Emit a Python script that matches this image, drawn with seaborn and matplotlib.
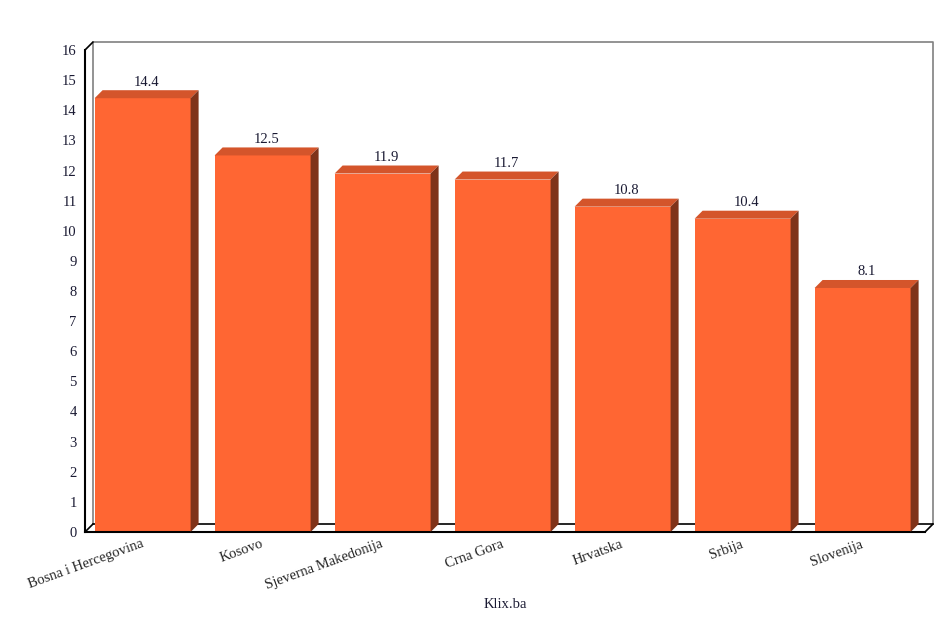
import matplotlib
matplotlib.use("Agg")
import matplotlib.pyplot as plt
import seaborn as sns
import pandas as pd
from matplotlib.patches import Polygon

countries = ["Bosna i Hercegovina", "Kosovo", "Sjeverna Makedonija", "Crna Gora",
             "Hrvatska", "Srbija", "Slovenija"]
values = [14.4, 12.5, 11.9, 11.7, 10.8, 10.4, 8.1]
y_ticks = list(range(0, 17))
source = "Klix.ba"

FRONT = "#FF6633"
TOP = "#D4552B"
SIDE = "#7F331A"

sns.set_style("white")
plt.rcParams["font.family"] = ["Liberation Serif", "DejaVu Serif"]

df = pd.DataFrame({"country": countries, "value": values})

fig = plt.figure(figsize=(9.38, 6.25), dpi=100)
ax = fig.add_axes([85 / 938, 1 - 532 / 625, 840 / 938, 482 / 625])
sns.barplot(data=df, x="country", y="value", color=FRONT, saturation=1,
            width=0.8, ax=ax, linewidth=0)

n = len(countries)
ax.set_xlim(-0.5, n - 0.5)
ax.set_ylim(0, 16)

# depth of the fake 3d effect (8 px)
dx = 8 / (840 / n)
dy = 8 / (482 / 16)

# back wall and floor
wall_kw = dict(clip_on=False, lw=1.2, zorder=0.5)
ax.plot([-0.5 + dx, -0.5 + dx, n - 0.5 + dx, n - 0.5 + dx],
        [dy, 16 + dy, 16 + dy, dy], color="#808080", **wall_kw)
ax.plot([-0.5, -0.5 + dx], [16, 16 + dy], color="black", **wall_kw)
ax.plot([-0.5, -0.5 + dx], [0, dy], color="black", **wall_kw)
ax.plot([n - 0.5, n - 0.5 + dx], [0, dy], color="black", **wall_kw)
ax.plot([-0.5 + dx, n - 0.5 + dx], [dy, dy], color="black", **wall_kw)

for p, v in zip(ax.patches, values):
    p.set_x(p.get_x() - 0.02)
    x0 = p.get_x()
    x1 = x0 + p.get_width()
    h = p.get_height()
    top = Polygon([(x0, h), (x1, h), (x1 + dx, h + dy), (x0 + dx, h + dy)],
                  closed=True, facecolor=TOP, edgecolor="none", clip_on=False, zorder=3)
    side = Polygon([(x1, 0), (x1, h), (x1 + dx, h + dy), (x1 + dx, dy)],
                   closed=True, facecolor=SIDE, edgecolor="none", clip_on=False, zorder=3)
    ax.add_patch(top)
    ax.add_patch(side)
    ax.text((x0 + x1 + dx) / 2, h + dy + 0.05, f"{v}", ha="center", va="bottom",
            fontsize=10.5, color="#1a1a33", zorder=4,
            bbox=dict(facecolor="white", edgecolor="none", pad=0.5))

# axes, ticks and labels
ax.set_yticks(y_ticks)
ax.set_yticklabels([str(t) for t in y_ticks], fontsize=10.5, color="#1a1a33")
ax.set_xticks([i - 0.5 for i in range(n + 1)])
ax.set_xticklabels([])
ax.set_xticks(range(n), minor=True)
ax.set_xticklabels(countries, minor=True, rotation=20, ha="right", fontsize=10.5)
ax.tick_params(axis="x", which="major", direction="out", length=6, width=1, color="black")
ax.tick_params(axis="x", which="minor", length=0, pad=4)
ax.tick_params(axis="y", direction="out", length=4, width=1, color="black", pad=2)
ax.set_xlabel("")
ax.set_ylabel("")

for s in ["top", "right"]:
    ax.spines[s].set_visible(False)
for s in ["left", "bottom"]:
    ax.spines[s].set_color("black")
    ax.spines[s].set_linewidth(1.5)

fig.text(505 / 938, 1 - 605 / 625, source, ha="center", va="center",
         fontsize=10.5, color="#1a1a33")

fig.savefig("out.png", dpi=100)
